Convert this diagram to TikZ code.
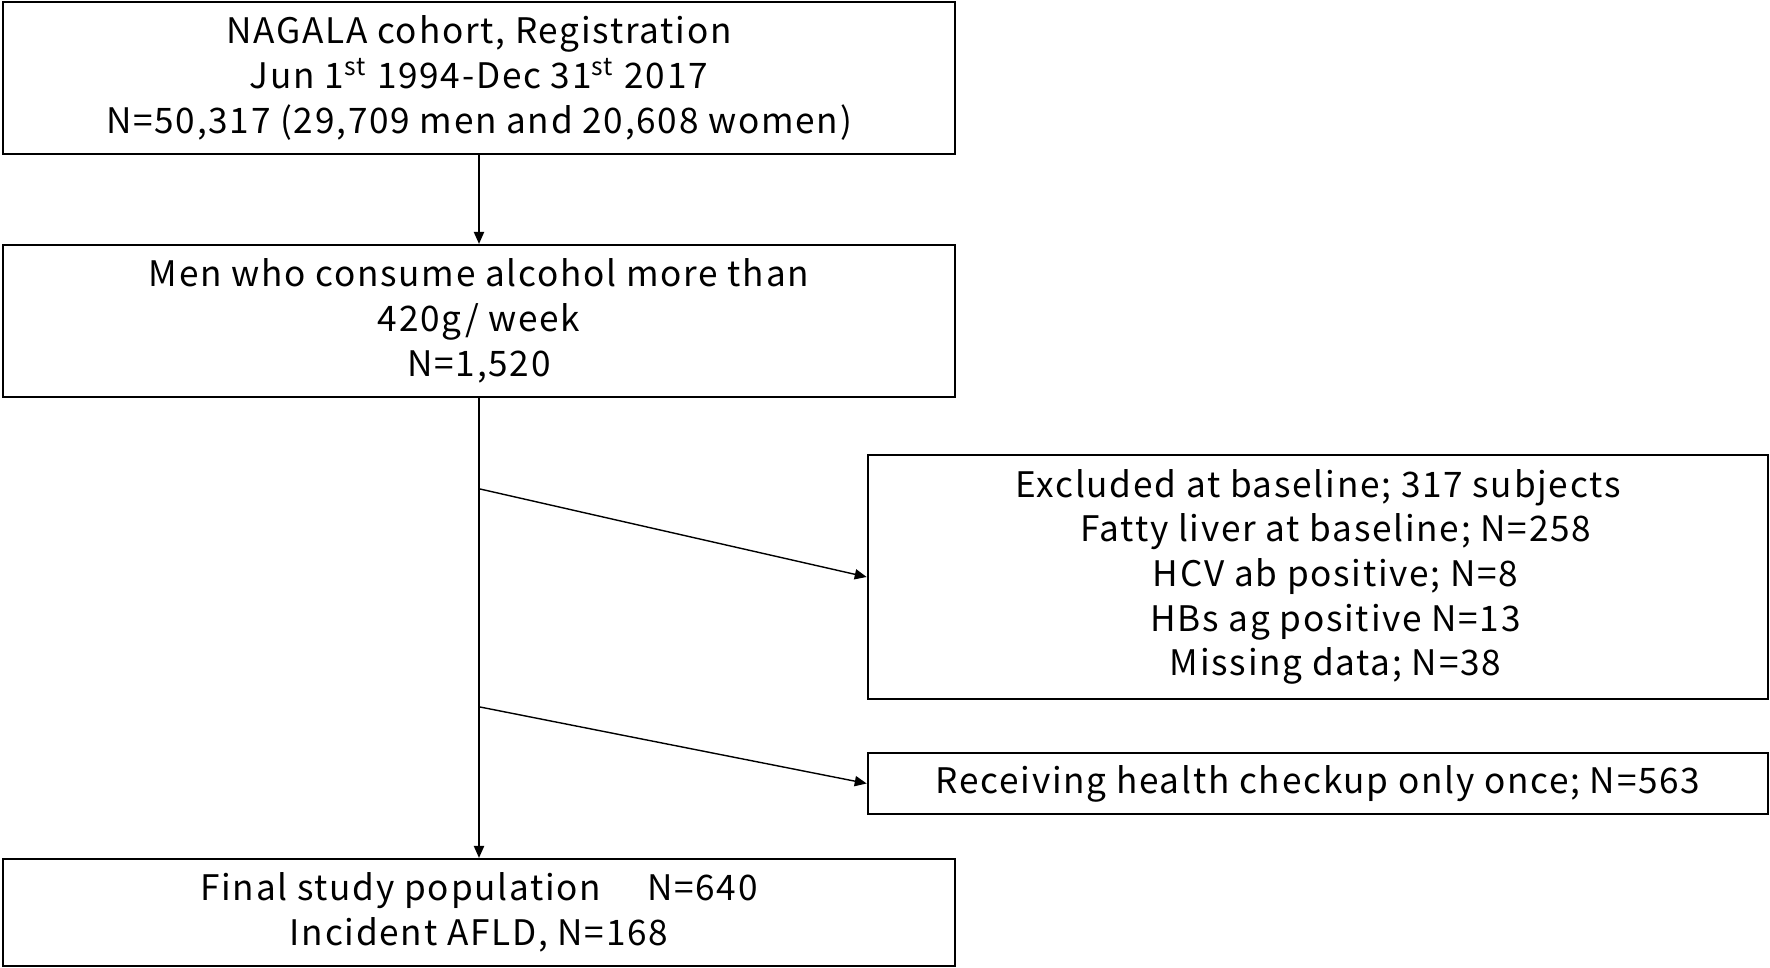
\documentclass[tikz,border=0pt]{standalone}
\usepackage{fontspec}
\setmainfont[LetterSpace=5]{Noto Sans CJK JP}
\usepackage{tikz}
\usetikzlibrary{arrows.meta, positioning}

\begin{document}
\begin{tikzpicture}[x=0.01cm, y=0.01cm]
\tikzstyle{box} = [draw, line width=0.6pt, inner sep=0pt, align=center, font=\fontsize{10}{12.7}\selectfont]
\tikzstyle{flow} = [line width=0.4pt, -{Triangle[length=3.4pt, width=2.9pt]}]
\useasboundingbox (0,0) rectangle (1770,-968);
\node[box, minimum width=9.52cm, minimum height=1.52cm] (cohort) at (479,-78) {NAGALA cohort, Registration\\
    Jun 1\textsuperscript{st} 1994-Dec 31\textsuperscript{st} 2017\\
    N=50,317 (29,709 men and 20,608 women)};
\node[box, minimum width=9.52cm, minimum height=1.52cm] (drinkers) at (479,-321) {Men who consume alcohol more than\\
    420g/ week\\
    N=1,520};
\node[box, minimum width=9.0cm, minimum height=2.44cm] (excluded) at (1318,-577) {Excluded at baseline; 317 subjects\\
    \hspace*{1em}Fatty liver at baseline; N=258\\
    \hspace*{1em}HCV ab positive; N=8\\
    \hspace*{1em}HBs ag positive N=13\\
    \hspace*{1em}Missing data; N=38};
\node[box, minimum width=9.0cm, minimum height=0.61cm] (once) at (1318,-783.5) {Receiving health checkup only once; N=563};
\node[box, minimum width=9.52cm, minimum height=1.07cm] (final) at (479,-912.5) {Final study population\hspace{1.3em}N=640\\
    Incident AFLD, N=168};
\coordinate (split1) at (480,-489);
\coordinate (split2) at (480,-707);
\draw[flow] (cohort) -- (drinkers);
\draw[flow] (drinkers) -- (final);
\draw[flow] (split1) -- (excluded.west);
\draw[flow] (split2) -- (once.west);
\end{tikzpicture}
\end{document}
